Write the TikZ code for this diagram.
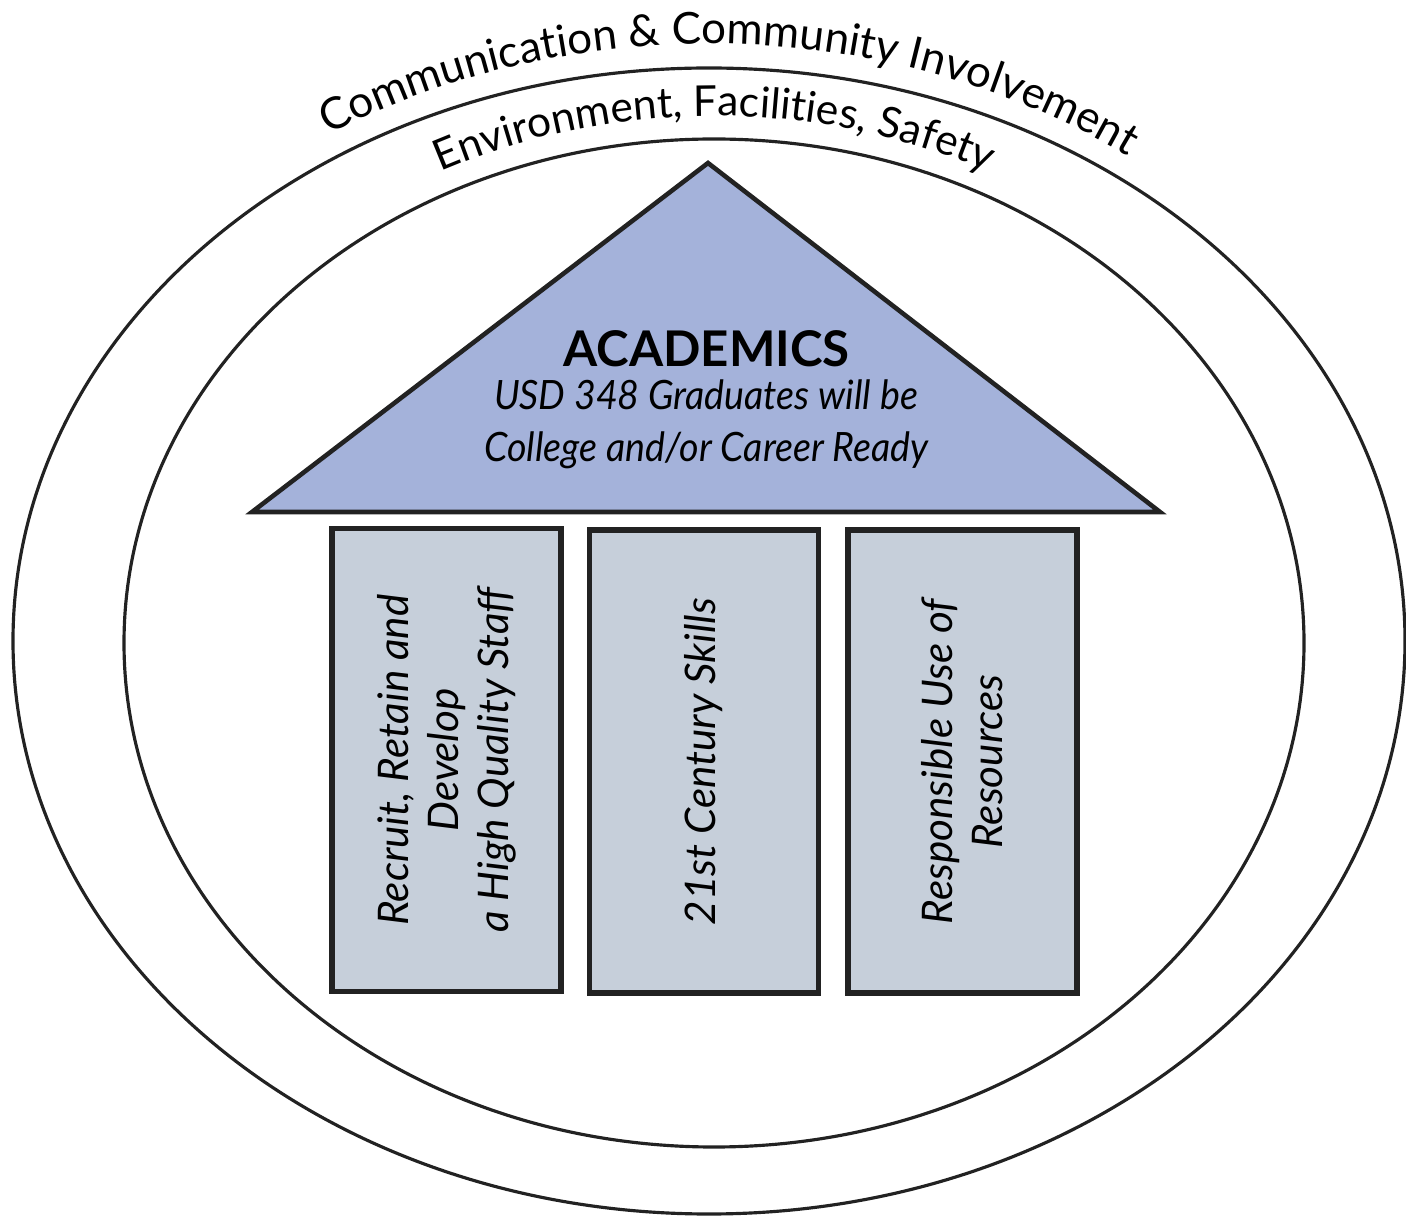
\documentclass[tikz,border=0pt]{standalone}
\usepackage{fontspec}
\setmainfont{Lato}
\newfontfamily\narrowfont[FakeStretch=0.93]{Lato}
\usepackage{tikz}
\usetikzlibrary{positioning,calc,decorations.text}
\definecolor{inkline}{RGB}{34,34,34}
\definecolor{roofblue}{RGB}{164,178,218}
\definecolor{pillargray}{RGB}{198,207,218}
\tikzset{
  ring/.style     = {draw=inkline, line width=0.9pt},
  roof/.style     = {draw=inkline, line width=1.3pt, fill=roofblue, line join=miter},
  pillar/.style   = {rectangle, draw=inkline, line width=1.5pt, fill=pillargray,
                     rotate=90, minimum width=4.63cm, minimum height=2.29cm,
                     inner sep=0pt, align=center,
                     font=\fontsize{12}{14.2}\selectfont\itshape},
  title/.style    = {anchor=base, font=\fontsize{14}{16}\selectfont\bfseries},
  goal/.style     = {anchor=base, font=\narrowfont\fontsize{11.5}{14}\selectfont\itshape},
  ringtext/.style = {decorate, decoration={text along path, text align=center, text={#1}}}
}

\begin{document}
\begin{tikzpicture}
  \useasboundingbox (0,0) rectangle (14.06,12.15);
  % the two rings
  \draw[ring] (7.09,5.74) ellipse [x radius=6.96cm, y radius=5.73cm];
  \draw[ring] (7.14,5.72) ellipse [x radius=5.90cm, y radius=5.04cm];
  \path[ringtext={|\fontsize{12.5}{15}\selectfont|Communication {\&} Community Involvement}]
    (7.09,5.74) ++(150:7.18 and 5.97) arc[start angle=150, end angle=26, x radius=7.18cm, y radius=5.97cm];
  \path[ringtext={|\fontsize{12.1}{15}\selectfont|Environment, Facilities, Safety}]
    (7.14,5.72) ++(150:6.12 and 5.27) arc[start angle=150, end angle=30, x radius=6.12cm, y radius=5.27cm];
  % roof
  \coordinate (apex) at (7.08,10.52);
  \coordinate (eaveL) at (2.52,7.03);
  \coordinate (eaveR) at (11.60,7.03);
  \draw[roof] (apex) -- (eaveR) -- (eaveL) -- cycle;
  \node[title] (academics) at (7.065,8.48) {ACADEMICS};
  \node[goal] (goalA) at (7.06,8.05) {USD 348 Graduates will be};
  \node[goal] (goalB) at (7.065,7.53) {College and/or Career Ready};
  % pillars
  \node[pillar] (staff) at (4.465,4.55) {Recruit, Retain and\\Develop\\a High Quality Staff};
  \node[pillar] (skills) at (7.04,4.535) {21st Century Skills};
  \node[pillar] (resources) at (9.625,4.535) {Responsible Use of\\Resources};
\end{tikzpicture}
\end{document}
